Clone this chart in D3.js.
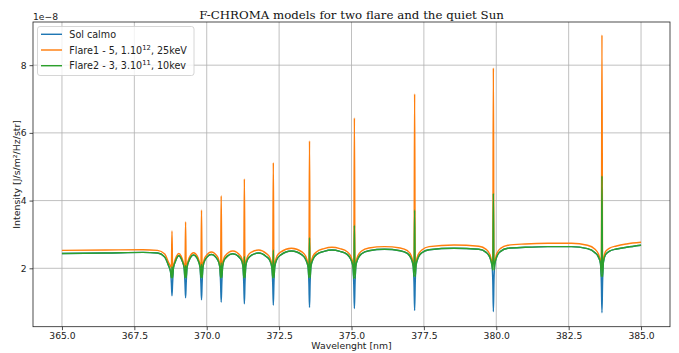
<!DOCTYPE html>
<html>
<head>
<meta charset="utf-8">
<script src="https://cdn.jsdelivr.net/npm/d3@7"></script>
<style>
  body { margin: 0; background: #fff; }
  svg { display: block; }
</style>
</head>
<body>
<svg id="chart" width="679" height="353"></svg>
<script>
// values in units of 1e-8 J/s/m2/Hz/str
const wavelength = [
  365.00, 366.50, 367.80, 368.30, 368.55,
  368.68, 368.75, 368.78, 368.80, 368.82, 368.85, 368.92, 369.035,
  369.15, 369.22, 369.25, 369.27, 369.29, 369.32, 369.39, 369.545,
  369.70, 369.77, 369.80, 369.82, 369.84, 369.87, 369.94, 370.16,
  370.38, 370.45, 370.48, 370.50, 370.52, 370.55, 370.62, 370.90,
  371.18, 371.25, 371.28, 371.30, 371.32, 371.35, 371.42, 371.55, 371.80,
  372.05, 372.18, 372.25, 372.28, 372.30, 372.32, 372.35, 372.42, 372.55, 372.925,
  373.30, 373.43, 373.50, 373.53, 373.55, 373.57, 373.60, 373.67, 373.80, 374.05, 374.325,
  374.60, 374.85, 374.98, 375.05, 375.08, 375.10, 375.12, 375.15, 375.22, 375.35, 375.60, 376.14,
  376.68, 376.93, 377.06, 377.13, 377.16, 377.18, 377.20, 377.23, 377.30, 377.43, 377.68, 378.54,
  379.40, 379.65, 379.78, 379.85, 379.88, 379.90, 379.92, 379.95, 380.02, 380.15, 380.40, 381.00, 381.78, 382.60,
  383.15, 383.40, 383.53, 383.60, 383.63, 383.65, 383.67, 383.70, 383.77, 383.90, 384.15, 384.50, 385.00
];

const solCalmo = [
  2.44, 2.45, 2.47, 2.45, 2.33,
  2.08, 1.90, 1.55, 1.19, 1.55, 2.01, 2.21, 2.37,
  2.22, 2.01, 1.55, 1.13, 1.55, 2.03, 2.23, 2.39,
  2.24, 2.03, 1.55, 1.07, 1.55, 2.04, 2.25, 2.41,
  2.25, 2.05, 1.55, 1.00, 1.55, 2.06, 2.27, 2.43,
  2.27, 2.07, 1.55, 0.95, 1.55, 2.08, 2.28, 2.39, 2.45,
  2.35, 2.23, 2.03, 1.55, 0.91, 1.55, 2.05, 2.26, 2.39, 2.51,
  2.39, 2.24, 2.04, 1.55, 0.84, 1.55, 2.06, 2.27, 2.41, 2.50, 2.54,
  2.50, 2.41, 2.26, 2.05, 1.50, 0.81, 1.50, 2.07, 2.28, 2.43, 2.52, 2.56,
  2.52, 2.44, 2.29, 2.07, 1.55, 0.75, 1.55, 2.09, 2.31, 2.46, 2.55, 2.59,
  2.56, 2.47, 2.32, 2.10, 1.65, 0.72, 1.65, 2.13, 2.35, 2.50, 2.59, 2.62, 2.64, 2.64,
  2.58, 2.47, 2.33, 2.14, 1.55, 0.69, 1.55, 2.18, 2.40, 2.50, 2.57, 2.62, 2.68
];

const flare1 = [
  2.53, 2.54, 2.55, 2.53, 2.42,
  2.18, 2.06, 2.00, 3.10, 2.00, 2.08, 2.28, 2.44,
  2.29, 2.08, 2.00, 3.37, 2.00, 2.10, 2.30, 2.46,
  2.31, 2.10, 2.00, 3.72, 2.00, 2.11, 2.32, 2.48,
  2.33, 2.12, 2.00, 4.14, 2.00, 2.14, 2.35, 2.51,
  2.35, 2.15, 2.00, 4.64, 2.00, 2.16, 2.37, 2.48, 2.54,
  2.44, 2.32, 2.12, 2.00, 5.12, 2.00, 2.14, 2.35, 2.48, 2.59,
  2.48, 2.33, 2.13, 2.00, 5.76, 2.00, 2.15, 2.36, 2.49, 2.58, 2.62,
  2.58, 2.49, 2.35, 2.14, 1.95, 6.44, 1.95, 2.16, 2.37, 2.51, 2.60, 2.64,
  2.60, 2.52, 2.38, 2.16, 2.00, 7.15, 2.00, 2.18, 2.40, 2.54, 2.64, 2.69,
  2.65, 2.56, 2.41, 2.19, 2.15, 7.92, 2.15, 2.22, 2.44, 2.59, 2.68, 2.72, 2.74, 2.74,
  2.68, 2.57, 2.42, 2.23, 2.15, 8.89, 2.15, 2.27, 2.49, 2.59, 2.66, 2.72, 2.77
];

const flare2 = [
  2.44, 2.45, 2.47, 2.45, 2.33,
  2.08, 1.90, 1.72, 2.05, 1.72, 2.01, 2.21, 2.37,
  2.22, 2.01, 1.72, 2.08, 1.72, 2.03, 2.23, 2.39,
  2.24, 2.03, 1.72, 2.12, 1.72, 2.04, 2.25, 2.41,
  2.25, 2.05, 1.72, 2.16, 1.72, 2.06, 2.27, 2.43,
  2.27, 2.07, 1.72, 2.35, 1.72, 2.08, 2.28, 2.39, 2.45,
  2.35, 2.23, 2.03, 1.72, 2.54, 1.72, 2.05, 2.26, 2.39, 2.51,
  2.39, 2.24, 2.04, 1.72, 2.90, 1.72, 2.06, 2.27, 2.41, 2.50, 2.54,
  2.50, 2.41, 2.26, 2.05, 1.70, 3.27, 1.70, 2.07, 2.28, 2.43, 2.52, 2.56,
  2.52, 2.44, 2.29, 2.07, 1.75, 3.72, 1.75, 2.09, 2.31, 2.46, 2.55, 2.59,
  2.56, 2.47, 2.32, 2.10, 1.95, 4.21, 1.95, 2.13, 2.35, 2.50, 2.59, 2.62, 2.64, 2.64,
  2.58, 2.47, 2.33, 2.14, 1.75, 4.73, 1.75, 2.18, 2.40, 2.50, 2.57, 2.62, 2.68
];

const seriesNames = ['Sol calmo', 'Flare1 - 5, 1.10', 'Flare2 - 3, 3.10'];
const seriesSup = ['', '12', '11'];
const seriesTail = ['', ', 25keV', ', 10kev'];
const seriesColors = ['#1f77b4', '#ff7f0e', '#2ca02c'];
const xTicks = [365, 367.5, 370, 372.5, 375, 377.5, 380, 382.5, 385];
const yTicks = [2, 4, 6, 8];

const plot = { left: 33, right: 670, top: 22, bottom: 326.7 };

const svg = d3.select('#chart');

const x = d3.scaleLinear().domain([364, 386]).range([plot.left, plot.right]);
const y = d3.scaleLinear().domain([0.275, 9.275]).range([plot.bottom, plot.top]);

// grid
svg.append('g')
    .selectAll('line')
    .data(xTicks)
    .enter().append('line')
    .attr('x1', d => x(d)).attr('x2', d => x(d))
    .attr('y1', plot.top).attr('y2', plot.bottom)
    .attr('stroke', '#b0b0b0').attr('stroke-width', 0.8);

svg.append('g')
    .selectAll('line')
    .data(yTicks)
    .enter().append('line')
    .attr('x1', plot.left).attr('x2', plot.right)
    .attr('y1', d => y(d)).attr('y2', d => y(d))
    .attr('stroke', '#b0b0b0').attr('stroke-width', 0.8);

// series
svg.append('clipPath').attr('id', 'clip')
    .append('rect')
    .attr('x', plot.left).attr('y', plot.top)
    .attr('width', plot.right - plot.left).attr('height', plot.bottom - plot.top);

const line = d3.line()
    .x((d, i) => x(wavelength[i]))
    .y(d => y(d))
    .curve(d3.curveMonotoneX);

[solCalmo, flare1, flare2].forEach((vals, k) => {
    svg.append('path')
        .attr('clip-path', 'url(#clip)')
        .attr('d', line(vals))
        .attr('fill', 'none')
        .attr('stroke', seriesColors[k])
        .attr('stroke-width', 1.45)
        .attr('stroke-linejoin', 'round');
});

// axes
const xAxis = svg.append('g')
    .attr('transform', `translate(0,${plot.bottom})`)
    .call(d3.axisBottom(x).tickValues(xTicks).tickFormat(d3.format('.1f')).tickSize(3.5).tickSizeOuter(0).tickPadding(2));

const yAxis = svg.append('g')
    .attr('transform', `translate(${plot.left},0)`)
    .call(d3.axisLeft(y).tickValues(yTicks).tickFormat(d3.format('d')).tickSize(3.5).tickSizeOuter(0).tickPadding(3));

[xAxis, yAxis].forEach(g => {
    g.select('.domain').remove();
    g.selectAll('.tick line').attr('stroke', '#222').attr('stroke-width', 0.8);
    g.selectAll('.tick text')
        .attr('fill', '#222')
        .style('font-family', 'DejaVu Sans')
        .style('font-size', '9.2px');
});

// frame
svg.append('rect')
    .attr('x', plot.left).attr('y', plot.top)
    .attr('width', plot.right - plot.left).attr('height', plot.bottom - plot.top)
    .attr('fill', 'none')
    .attr('stroke', '#222')
    .attr('stroke-width', 0.8);

// labels
svg.append('text')
    .attr('x', (plot.left + plot.right) / 2).attr('y', 19)
    .attr('text-anchor', 'middle')
    .style('font-family', 'DejaVu Serif')
    .style('font-size', '11.8px')
    .attr('fill', '#111')
    .text('F-CHROMA models for two flare and the quiet Sun');

svg.append('text')
    .attr('x', plot.left).attr('y', 20)
    .style('font-family', 'DejaVu Sans')
    .style('font-size', '9.2px')
    .attr('fill', '#222')
    .text('1e\u22128');

svg.append('text')
    .attr('x', (plot.left + plot.right) / 2).attr('y', 349)
    .attr('text-anchor', 'middle')
    .style('font-family', 'DejaVu Sans')
    .style('font-size', '9.3px')
    .attr('fill', '#222')
    .text('Wavelenght [nm]');

svg.append('text')
    .attr('transform', `translate(19.5,${(plot.top + plot.bottom) / 2}) rotate(-90)`)
    .attr('text-anchor', 'middle')
    .style('font-family', 'DejaVu Sans')
    .style('font-size', '9.4px')
    .attr('fill', '#222')
    .text('Intensity [J/s/m\u00b2/Hz/str]');

// legend
const legend = svg.append('g');
legend.append('rect')
    .attr('x', 37.5).attr('y', 26.5)
    .attr('width', 156.5).attr('height', 49)
    .attr('rx', 2.5)
    .attr('fill', '#fff').attr('fill-opacity', 0.8)
    .attr('stroke', '#cccccc').attr('stroke-width', 0.8);

seriesNames.forEach((name, k) => {
    const ly = 34.3 + k * 15.7;
    legend.append('line')
        .attr('x1', 41).attr('x2', 62)
        .attr('y1', ly).attr('y2', ly)
        .attr('stroke', seriesColors[k]).attr('stroke-width', 1.45);
    const t = legend.append('text')
        .attr('x', 69.3).attr('y', ly + 3.5)
        .style('font-family', 'DejaVu Sans')
        .style('font-size', '9.6px')
        .attr('fill', '#222');
    t.append('tspan').text(name);
    if (seriesSup[k]) {
        t.append('tspan').attr('dy', -3.8).style('font-size', '6.8px').text(seriesSup[k]);
        t.append('tspan').attr('dy', 3.8).text(seriesTail[k]);
    }
});
</script>
</body>
</html>
